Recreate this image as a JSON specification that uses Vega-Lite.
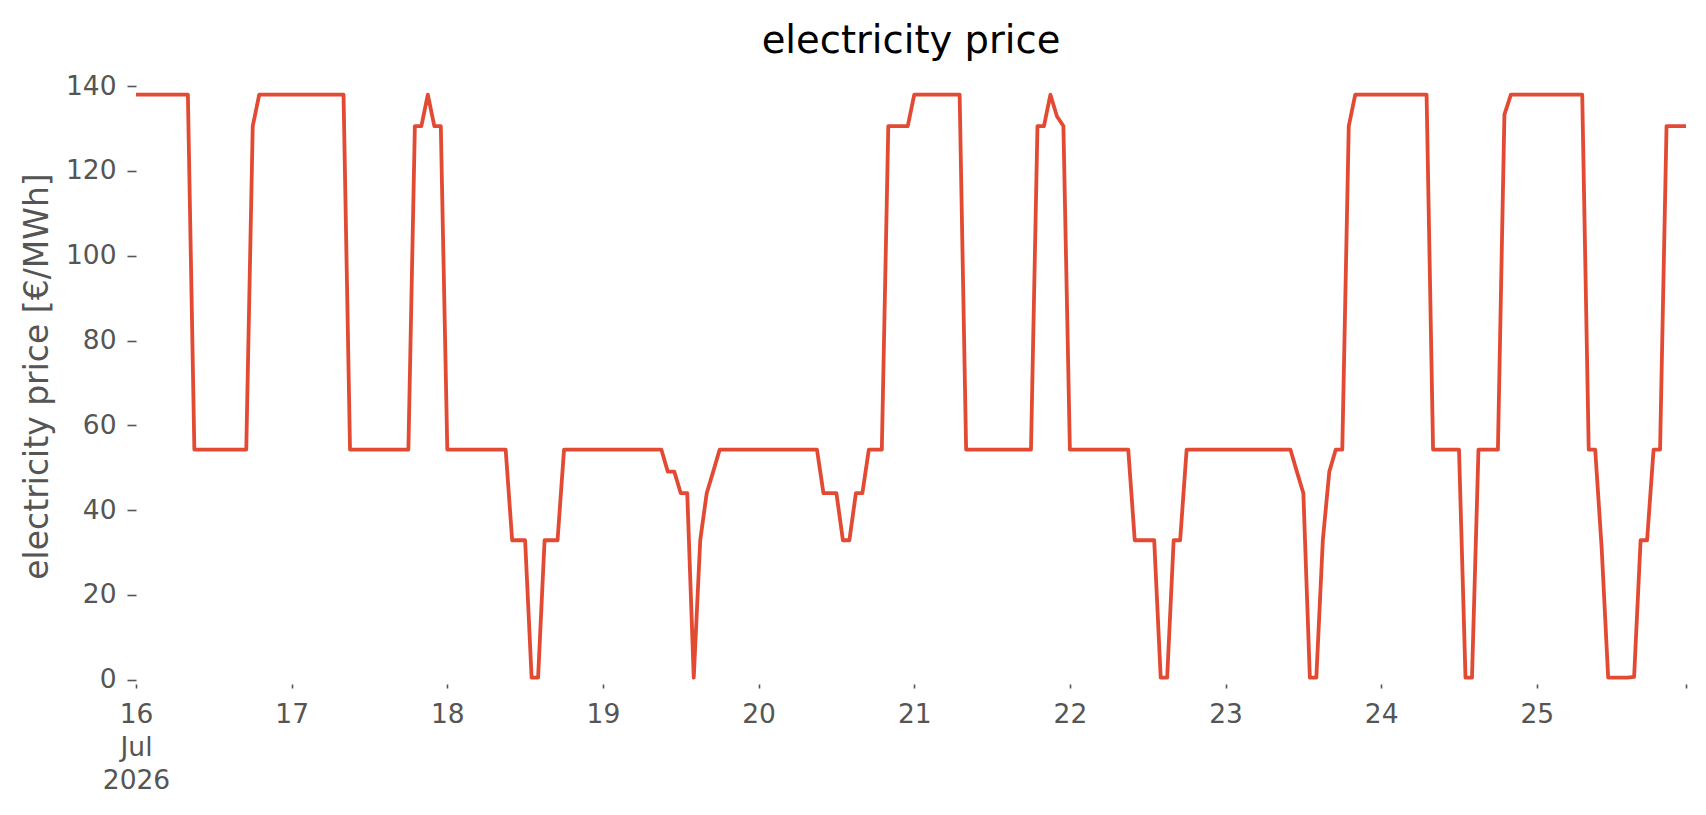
{
  "$schema": "https://vega.github.io/schema/vega-lite/v6.json",
  "autosize": {"type": "none"},
  "padding": {"left": 136, "top": 65, "right": 20, "bottom": 131},
  "width": 1550,
  "height": 619,
  "background": "#ffffff",
  "title": {"text": "electricity price", "font": "DejaVu Sans", "fontSize": 38.5, "fontWeight": "normal", "color": "#000000", "baseline": "alphabetic", "offset": 13, "dy": 39},
  "data": {"values": [
    {"t":"2026-07-16T00:00Z","p":138},{"t":"2026-07-16T01:00Z","p":138},{"t":"2026-07-16T02:00Z","p":138},{"t":"2026-07-16T03:00Z","p":138},{"t":"2026-07-16T04:00Z","p":138},{"t":"2026-07-16T05:00Z","p":138},{"t":"2026-07-16T06:00Z","p":138},{"t":"2026-07-16T07:00Z","p":138},{"t":"2026-07-16T08:00Z","p":138},{"t":"2026-07-16T09:00Z","p":54.3},{"t":"2026-07-16T10:00Z","p":54.3},{"t":"2026-07-16T11:00Z","p":54.3},{"t":"2026-07-16T12:00Z","p":54.3},{"t":"2026-07-16T13:00Z","p":54.3},{"t":"2026-07-16T14:00Z","p":54.3},{"t":"2026-07-16T15:00Z","p":54.3},{"t":"2026-07-16T16:00Z","p":54.3},{"t":"2026-07-16T17:00Z","p":54.3},{"t":"2026-07-16T18:00Z","p":130.6},{"t":"2026-07-16T19:00Z","p":138},{"t":"2026-07-16T20:00Z","p":138},{"t":"2026-07-16T21:00Z","p":138},{"t":"2026-07-16T22:00Z","p":138},{"t":"2026-07-16T23:00Z","p":138},
    {"t":"2026-07-17T00:00Z","p":138},{"t":"2026-07-17T01:00Z","p":138},{"t":"2026-07-17T02:00Z","p":138},{"t":"2026-07-17T03:00Z","p":138},{"t":"2026-07-17T04:00Z","p":138},{"t":"2026-07-17T05:00Z","p":138},{"t":"2026-07-17T06:00Z","p":138},{"t":"2026-07-17T07:00Z","p":138},{"t":"2026-07-17T08:00Z","p":138},{"t":"2026-07-17T09:00Z","p":54.3},{"t":"2026-07-17T10:00Z","p":54.3},{"t":"2026-07-17T11:00Z","p":54.3},{"t":"2026-07-17T12:00Z","p":54.3},{"t":"2026-07-17T13:00Z","p":54.3},{"t":"2026-07-17T14:00Z","p":54.3},{"t":"2026-07-17T15:00Z","p":54.3},{"t":"2026-07-17T16:00Z","p":54.3},{"t":"2026-07-17T17:00Z","p":54.3},{"t":"2026-07-17T18:00Z","p":54.3},{"t":"2026-07-17T19:00Z","p":130.6},{"t":"2026-07-17T20:00Z","p":130.6},{"t":"2026-07-17T21:00Z","p":138},{"t":"2026-07-17T22:00Z","p":130.6},{"t":"2026-07-17T23:00Z","p":130.6},
    {"t":"2026-07-18T00:00Z","p":54.3},{"t":"2026-07-18T01:00Z","p":54.3},{"t":"2026-07-18T02:00Z","p":54.3},{"t":"2026-07-18T03:00Z","p":54.3},{"t":"2026-07-18T04:00Z","p":54.3},{"t":"2026-07-18T05:00Z","p":54.3},{"t":"2026-07-18T06:00Z","p":54.3},{"t":"2026-07-18T07:00Z","p":54.3},{"t":"2026-07-18T08:00Z","p":54.3},{"t":"2026-07-18T09:00Z","p":54.3},{"t":"2026-07-18T10:00Z","p":32.9},{"t":"2026-07-18T11:00Z","p":32.9},{"t":"2026-07-18T12:00Z","p":32.9},{"t":"2026-07-18T13:00Z","p":0.5},{"t":"2026-07-18T14:00Z","p":0.5},{"t":"2026-07-18T15:00Z","p":32.9},{"t":"2026-07-18T16:00Z","p":32.9},{"t":"2026-07-18T17:00Z","p":32.9},{"t":"2026-07-18T18:00Z","p":54.3},{"t":"2026-07-18T19:00Z","p":54.3},{"t":"2026-07-18T20:00Z","p":54.3},{"t":"2026-07-18T21:00Z","p":54.3},{"t":"2026-07-18T22:00Z","p":54.3},{"t":"2026-07-18T23:00Z","p":54.3},
    {"t":"2026-07-19T00:00Z","p":54.3},{"t":"2026-07-19T01:00Z","p":54.3},{"t":"2026-07-19T02:00Z","p":54.3},{"t":"2026-07-19T03:00Z","p":54.3},{"t":"2026-07-19T04:00Z","p":54.3},{"t":"2026-07-19T05:00Z","p":54.3},{"t":"2026-07-19T06:00Z","p":54.3},{"t":"2026-07-19T07:00Z","p":54.3},{"t":"2026-07-19T08:00Z","p":54.3},{"t":"2026-07-19T09:00Z","p":54.3},{"t":"2026-07-19T10:00Z","p":49.1},{"t":"2026-07-19T11:00Z","p":49.1},{"t":"2026-07-19T12:00Z","p":44},{"t":"2026-07-19T13:00Z","p":44},{"t":"2026-07-19T14:00Z","p":0.5},{"t":"2026-07-19T15:00Z","p":32.9},{"t":"2026-07-19T16:00Z","p":44},{"t":"2026-07-19T17:00Z","p":49.1},{"t":"2026-07-19T18:00Z","p":54.3},{"t":"2026-07-19T19:00Z","p":54.3},{"t":"2026-07-19T20:00Z","p":54.3},{"t":"2026-07-19T21:00Z","p":54.3},{"t":"2026-07-19T22:00Z","p":54.3},{"t":"2026-07-19T23:00Z","p":54.3},
    {"t":"2026-07-20T00:00Z","p":54.3},{"t":"2026-07-20T01:00Z","p":54.3},{"t":"2026-07-20T02:00Z","p":54.3},{"t":"2026-07-20T03:00Z","p":54.3},{"t":"2026-07-20T04:00Z","p":54.3},{"t":"2026-07-20T05:00Z","p":54.3},{"t":"2026-07-20T06:00Z","p":54.3},{"t":"2026-07-20T07:00Z","p":54.3},{"t":"2026-07-20T08:00Z","p":54.3},{"t":"2026-07-20T09:00Z","p":54.3},{"t":"2026-07-20T10:00Z","p":44},{"t":"2026-07-20T11:00Z","p":44},{"t":"2026-07-20T12:00Z","p":44},{"t":"2026-07-20T13:00Z","p":32.9},{"t":"2026-07-20T14:00Z","p":32.9},{"t":"2026-07-20T15:00Z","p":44},{"t":"2026-07-20T16:00Z","p":44},{"t":"2026-07-20T17:00Z","p":54.3},{"t":"2026-07-20T18:00Z","p":54.3},{"t":"2026-07-20T19:00Z","p":54.3},{"t":"2026-07-20T20:00Z","p":130.6},{"t":"2026-07-20T21:00Z","p":130.6},{"t":"2026-07-20T22:00Z","p":130.6},{"t":"2026-07-20T23:00Z","p":130.6},
    {"t":"2026-07-21T00:00Z","p":138},{"t":"2026-07-21T01:00Z","p":138},{"t":"2026-07-21T02:00Z","p":138},{"t":"2026-07-21T03:00Z","p":138},{"t":"2026-07-21T04:00Z","p":138},{"t":"2026-07-21T05:00Z","p":138},{"t":"2026-07-21T06:00Z","p":138},{"t":"2026-07-21T07:00Z","p":138},{"t":"2026-07-21T08:00Z","p":54.3},{"t":"2026-07-21T09:00Z","p":54.3},{"t":"2026-07-21T10:00Z","p":54.3},{"t":"2026-07-21T11:00Z","p":54.3},{"t":"2026-07-21T12:00Z","p":54.3},{"t":"2026-07-21T13:00Z","p":54.3},{"t":"2026-07-21T14:00Z","p":54.3},{"t":"2026-07-21T15:00Z","p":54.3},{"t":"2026-07-21T16:00Z","p":54.3},{"t":"2026-07-21T17:00Z","p":54.3},{"t":"2026-07-21T18:00Z","p":54.3},{"t":"2026-07-21T19:00Z","p":130.6},{"t":"2026-07-21T20:00Z","p":130.6},{"t":"2026-07-21T21:00Z","p":138},{"t":"2026-07-21T22:00Z","p":132.9},{"t":"2026-07-21T23:00Z","p":130.6},
    {"t":"2026-07-22T00:00Z","p":54.3},{"t":"2026-07-22T01:00Z","p":54.3},{"t":"2026-07-22T02:00Z","p":54.3},{"t":"2026-07-22T03:00Z","p":54.3},{"t":"2026-07-22T04:00Z","p":54.3},{"t":"2026-07-22T05:00Z","p":54.3},{"t":"2026-07-22T06:00Z","p":54.3},{"t":"2026-07-22T07:00Z","p":54.3},{"t":"2026-07-22T08:00Z","p":54.3},{"t":"2026-07-22T09:00Z","p":54.3},{"t":"2026-07-22T10:00Z","p":32.9},{"t":"2026-07-22T11:00Z","p":32.9},{"t":"2026-07-22T12:00Z","p":32.9},{"t":"2026-07-22T13:00Z","p":32.9},{"t":"2026-07-22T14:00Z","p":0.5},{"t":"2026-07-22T15:00Z","p":0.5},{"t":"2026-07-22T16:00Z","p":32.9},{"t":"2026-07-22T17:00Z","p":32.9},{"t":"2026-07-22T18:00Z","p":54.3},{"t":"2026-07-22T19:00Z","p":54.3},{"t":"2026-07-22T20:00Z","p":54.3},{"t":"2026-07-22T21:00Z","p":54.3},{"t":"2026-07-22T22:00Z","p":54.3},{"t":"2026-07-22T23:00Z","p":54.3},
    {"t":"2026-07-23T00:00Z","p":54.3},{"t":"2026-07-23T01:00Z","p":54.3},{"t":"2026-07-23T02:00Z","p":54.3},{"t":"2026-07-23T03:00Z","p":54.3},{"t":"2026-07-23T04:00Z","p":54.3},{"t":"2026-07-23T05:00Z","p":54.3},{"t":"2026-07-23T06:00Z","p":54.3},{"t":"2026-07-23T07:00Z","p":54.3},{"t":"2026-07-23T08:00Z","p":54.3},{"t":"2026-07-23T09:00Z","p":54.3},{"t":"2026-07-23T10:00Z","p":54.3},{"t":"2026-07-23T11:00Z","p":49.1},{"t":"2026-07-23T12:00Z","p":44},{"t":"2026-07-23T13:00Z","p":0.5},{"t":"2026-07-23T14:00Z","p":0.5},{"t":"2026-07-23T15:00Z","p":32.9},{"t":"2026-07-23T16:00Z","p":49.1},{"t":"2026-07-23T17:00Z","p":54.3},{"t":"2026-07-23T18:00Z","p":54.3},{"t":"2026-07-23T19:00Z","p":130.6},{"t":"2026-07-23T20:00Z","p":138},{"t":"2026-07-23T21:00Z","p":138},{"t":"2026-07-23T22:00Z","p":138},{"t":"2026-07-23T23:00Z","p":138},
    {"t":"2026-07-24T00:00Z","p":138},{"t":"2026-07-24T01:00Z","p":138},{"t":"2026-07-24T02:00Z","p":138},{"t":"2026-07-24T03:00Z","p":138},{"t":"2026-07-24T04:00Z","p":138},{"t":"2026-07-24T05:00Z","p":138},{"t":"2026-07-24T06:00Z","p":138},{"t":"2026-07-24T07:00Z","p":138},{"t":"2026-07-24T08:00Z","p":54.3},{"t":"2026-07-24T09:00Z","p":54.3},{"t":"2026-07-24T10:00Z","p":54.3},{"t":"2026-07-24T11:00Z","p":54.3},{"t":"2026-07-24T12:00Z","p":54.3},{"t":"2026-07-24T13:00Z","p":0.5},{"t":"2026-07-24T14:00Z","p":0.5},{"t":"2026-07-24T15:00Z","p":54.3},{"t":"2026-07-24T16:00Z","p":54.3},{"t":"2026-07-24T17:00Z","p":54.3},{"t":"2026-07-24T18:00Z","p":54.3},{"t":"2026-07-24T19:00Z","p":133.3},{"t":"2026-07-24T20:00Z","p":138},{"t":"2026-07-24T21:00Z","p":138},{"t":"2026-07-24T22:00Z","p":138},{"t":"2026-07-24T23:00Z","p":138},
    {"t":"2026-07-25T00:00Z","p":138},{"t":"2026-07-25T01:00Z","p":138},{"t":"2026-07-25T02:00Z","p":138},{"t":"2026-07-25T03:00Z","p":138},{"t":"2026-07-25T04:00Z","p":138},{"t":"2026-07-25T05:00Z","p":138},{"t":"2026-07-25T06:00Z","p":138},{"t":"2026-07-25T07:00Z","p":138},{"t":"2026-07-25T08:00Z","p":54.3},{"t":"2026-07-25T09:00Z","p":54.3},{"t":"2026-07-25T10:00Z","p":31},{"t":"2026-07-25T11:00Z","p":0.5},{"t":"2026-07-25T12:00Z","p":0.5},{"t":"2026-07-25T13:00Z","p":0.5},{"t":"2026-07-25T14:00Z","p":0.5},{"t":"2026-07-25T15:00Z","p":0.7},{"t":"2026-07-25T16:00Z","p":32.9},{"t":"2026-07-25T17:00Z","p":32.9},{"t":"2026-07-25T18:00Z","p":54.3},{"t":"2026-07-25T19:00Z","p":54.3},{"t":"2026-07-25T20:00Z","p":130.6},{"t":"2026-07-25T21:00Z","p":130.6},{"t":"2026-07-25T22:00Z","p":130.6},{"t":"2026-07-25T23:00Z","p":130.6}
  ]},
  "mark": {"type": "line", "color": "#E24A33", "strokeWidth": 3.8, "strokeJoin": "round", "strokeCap": "butt", "clip": true},
  "encoding": {
    "x": {
      "field": "t", "type": "temporal",
      "scale": {"type": "utc", "domain": [{"year": 2026, "month": 7, "date": 16, "hours": 0, "utc": true}, {"year": 2026, "month": 7, "date": 25, "hours": 23, "utc": true}]},
      "axis": {
        "title": null,
        "values": [
          {"year": 2026, "month": 7, "date": 16, "utc": true},
          {"year": 2026, "month": 7, "date": 17, "utc": true},
          {"year": 2026, "month": 7, "date": 18, "utc": true},
          {"year": 2026, "month": 7, "date": 19, "utc": true},
          {"year": 2026, "month": 7, "date": 20, "utc": true},
          {"year": 2026, "month": 7, "date": 21, "utc": true},
          {"year": 2026, "month": 7, "date": 22, "utc": true},
          {"year": 2026, "month": 7, "date": 23, "utc": true},
          {"year": 2026, "month": 7, "date": 24, "utc": true},
          {"year": 2026, "month": 7, "date": 25, "utc": true},
          {"year": 2026, "month": 7, "date": 25, "hours": 23, "utc": true}
        ],
        "labelExpr": "utchours(datum.value) == 23 ? '' : (utcdate(datum.value) == 16 ? ['16', 'Jul', '2026'] : utcFormat(datum.value, '%d'))",
        "labelLineHeight": 33,
        "tickSize": 4,
        "labelPadding": 13,
        "labelAngle": 0,
        "labelOverlap": false,
        "labelFlush": false
      }
    },
    "y": {
      "field": "p", "type": "quantitative",
      "scale": {"domain": [-1, 145], "nice": false, "zero": false},
      "axis": {
        "title": "electricity price [€/MWh]",
        "values": [0, 20, 40, 60, 80, 100, 120, 140],
        "tickSize": 9,
        "labelPadding": 11,
        "titleX": -89,
        "titleY": 311,
        "titleBaseline": "alphabetic",
        "titleAngle": -90,
        "titleAlign": "center"
      }
    }
  },
  "config": {
    "view": {"stroke": null},
    "axis": {
      "domain": false,
      "grid": false,
      "tickColor": "#555555",
      "tickWidth": 1.6,
      "labelColor": "#555555",
      "labelFont": "DejaVu Sans",
      "labelFontSize": 26.5,
      "titleColor": "#555555",
      "titleFont": "DejaVu Sans",
      "titleFontSize": 33,
      "titleFontWeight": "normal"
    }
  }
}
